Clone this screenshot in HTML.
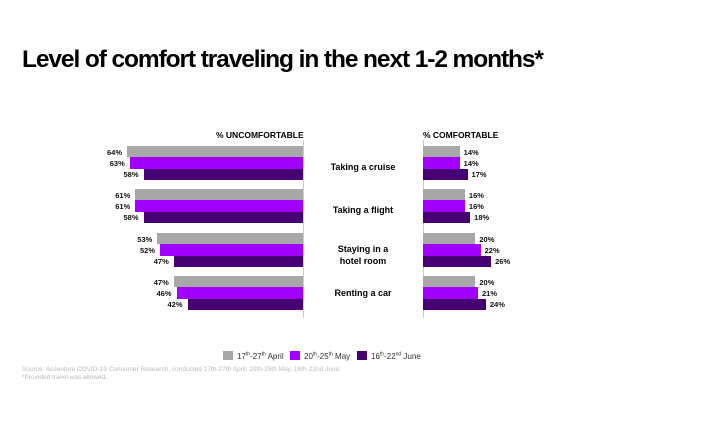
<!DOCTYPE html>
<html><head><style>
body{margin:0;width:724px;height:432px;background:#fff;font-family:"Liberation Sans",sans-serif;position:relative;overflow:hidden}
.t{position:absolute;left:22px;top:46px;font-size:24.5px;font-weight:bold;letter-spacing:-1.1px;color:#000}
.b{position:absolute;height:11.3px}
.l{position:absolute;font-size:7.5px;font-weight:bold;color:#111}
.c{position:absolute;font-size:9px;font-weight:bold;text-align:center;width:120px;left:303px;line-height:12px}
.h{position:absolute;font-size:8.5px;font-weight:bold}
.ax{position:absolute;width:1px;background:#ccc;top:140px;height:178px}
.lg{position:absolute;top:351px;font-size:8px;color:#333}
.lg span{display:inline-block;width:10px;height:9px;vertical-align:-1px;margin-right:4px}
.s{position:absolute;left:22px;font-size:6.5px;color:#bbb}
</style></head><body>
<div class="t">Level of comfort traveling in the next 1-2 months*</div>
<div class="h" style="left:216px;top:130px">% UNCOMFORTABLE</div>
<div class="h" style="left:423px;top:130px">% COMFORTABLE</div>
<div class="ax" style="left:303px"></div>
<div class="ax" style="left:423px"></div>
<div id="g"></div>
<div class="c" style="top:161px">Taking a cruise</div>
<div class="c" style="top:204px">Taking a flight</div>
<div class="c" style="top:243px">Staying in a<br>hotel room</div>
<div class="c" style="top:287px">Renting a car</div>
<div class="lg" style="left:223px"><span style="background:#a8a8a8"></span>17<sup style="font-size:5px">th</sup>-27<sup style="font-size:5px">th</sup> April</div>
<div class="lg" style="left:290px"><span style="background:#a100ff"></span>20<sup style="font-size:5px">th</sup>-25<sup style="font-size:5px">th</sup> May</div>
<div class="lg" style="left:357px"><span style="background:#460073"></span>16<sup style="font-size:5px">th</sup>-22<sup style="font-size:5px">nd</sup> June</div>
<div class="s" style="top:366px">Source: Accenture COVID-19 Consumer Research, conducted 17th-27th April, 20th-25th May, 16th-22nd June.</div>
<div class="s" style="top:374px">*Provided travel was allowed.</div>
<script>
var u=[[64,63,58],[61,61,58],[53,52,47],[47,46,42]],c=[[14,14,17],[16,16,18],[20,22,26],[20,21,24]];
var col=["#a8a8a8","#a100ff","#460073"],tops=[146,189,233,276],h="";
for(var i=0;i<4;i++)for(var j=0;j<3;j++){var y=tops[i]+j*11.3;
var w=u[i][j]*2.75;h+='<div class="b" style="background:'+col[j]+';top:'+y+'px;left:'+(303-w)+'px;width:'+w+'px"></div>';
h+='<div class="l" style="top:'+(y+1.5)+'px;left:'+(303-w-20)+'px">'+u[i][j]+'%</div>';
var w2=c[i][j]*2.62;h+='<div class="b" style="background:'+col[j]+';top:'+y+'px;left:423px;width:'+w2+'px"></div>';
h+='<div class="l" style="top:'+(y+1.5)+'px;left:'+(423+w2+4)+'px">'+c[i][j]+'%</div>';}
document.getElementById("g").innerHTML=h;
</script>
</body></html>
